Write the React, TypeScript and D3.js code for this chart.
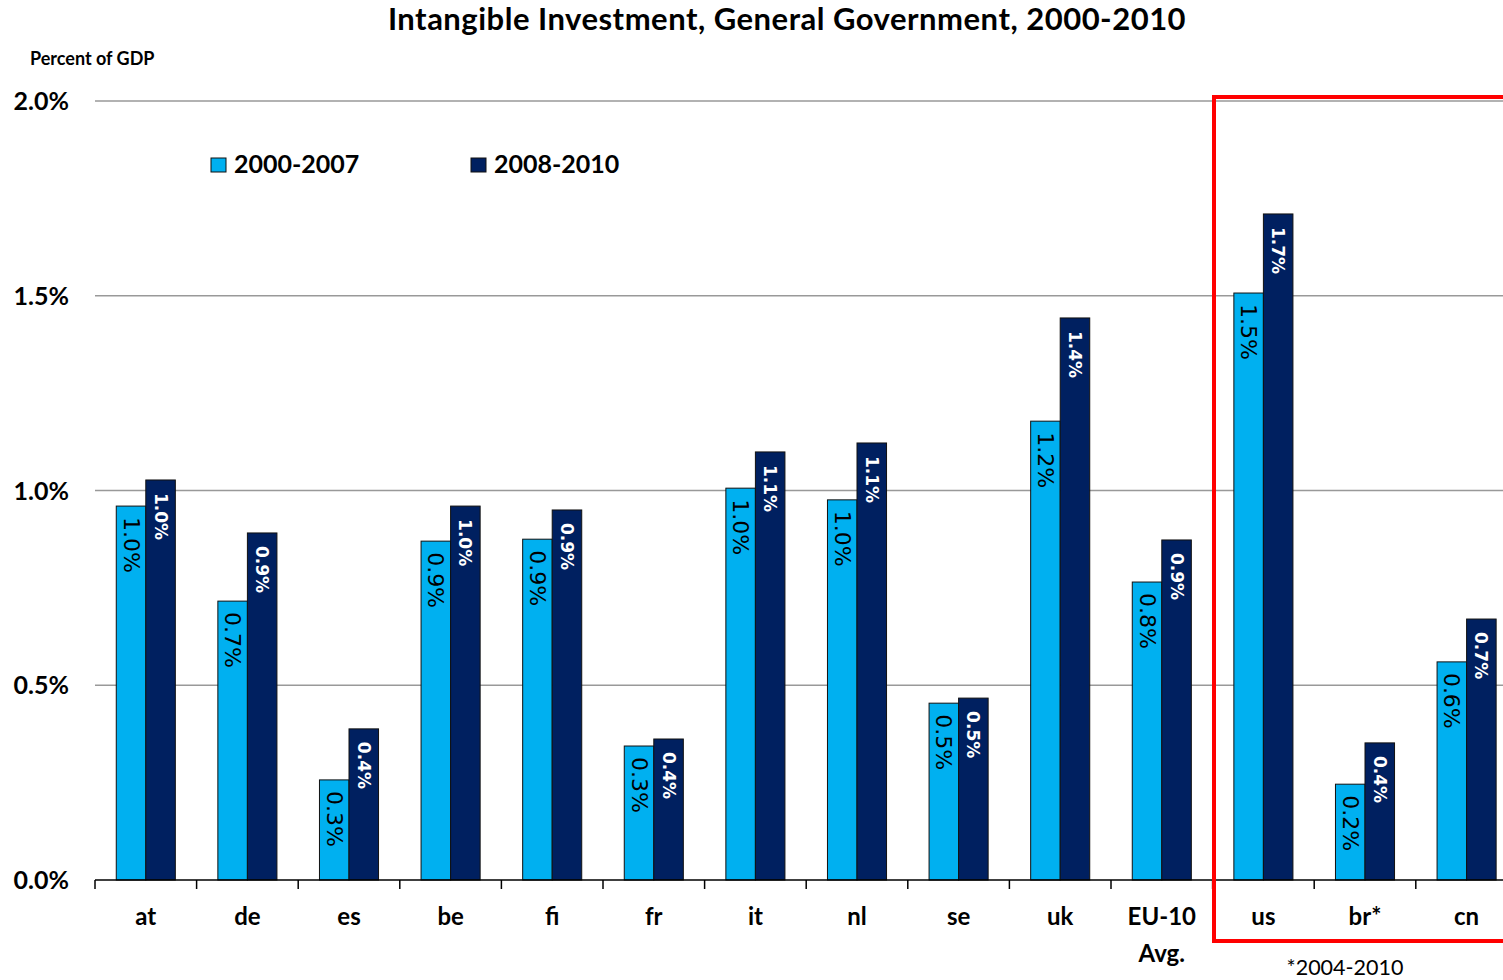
import React, { useEffect } from "react";
import * as d3 from "d3";

const categories = ["at", "de", "es", "be", "fi", "fr", "it", "nl", "se", "uk", "EU-10 Avg.", "us", "br*", "cn"];
const series = ["2000-2007", "2008-2010"];
const values2000_2007 = [0.96, 0.716, 0.257, 0.87, 0.875, 0.344, 1.006, 0.976, 0.454, 1.178, 0.765, 1.507, 0.246, 0.56];
const values2008_2010 = [1.027, 0.891, 0.388, 0.96, 0.95, 0.362, 1.099, 1.122, 0.467, 1.443, 0.873, 1.71, 0.352, 0.67];
const yTicks = [0, 0.5, 1.0, 1.5, 2.0];
const colors = ["#00B0F0", "#002060"];

const W = 1503;
const H = 980;

export default function App() {
  useEffect(() => {
    document.body.style.margin = "0";
  }, []);

  const left = 95;
  const step = 101.6;
  const x = d3.scaleBand<string>().domain(categories).range([left, left + step * categories.length]).padding(0);
  const sub = d3.scaleBand<string>().domain(series).range([0, x.bandwidth()]).paddingInner(0).paddingOuter(0.72);
  const y = d3.scaleLinear().domain([0, 2]).range([880, 101]);
  const data = [values2000_2007, values2008_2010];
  const bold = "Lato, 'Open Sans', sans-serif";

  return (
    <svg width={W} height={H} style={{ display: "block", background: "#fff" }}>
      <text x={787} y={30} textAnchor="middle" fontFamily={bold} fontWeight={700} fontSize={31} letterSpacing={0.5} fill="#000">
        Intangible Investment, General Government, 2000-2010
      </text>
      <text x={30} y={65} fontFamily={bold} fontWeight={700} fontSize={18} fill="#000">
        Percent of GDP
      </text>
      {yTicks.map((t) => (
        <g key={t}>
          {t > 0 && <line x1={left} x2={W} y1={y(t)} y2={y(t)} stroke="#999" strokeWidth={1.5} />}
          <text x={69} y={y(t)} dy="0.36em" textAnchor="end" fontFamily={bold} fontWeight={700} fontSize={25} fill="#000">
            {d3.format(".1%")(t / 100)}
          </text>
        </g>
      ))}
      {categories.map((c, i) => (
        <g key={c}>
          {series.map((s, j) => {
            const v = data[j][i];
            const bx = (x(c) as number) + (sub(s) as number);
            const bw = sub.bandwidth();
            return (
              <g key={s}>
                <rect x={bx} y={y(v)} width={bw} height={y(0) - y(v)} fill={colors[j]} stroke="#111" strokeWidth={1} />
                <text
                  transform={`translate(${bx + bw / 2},${y(v) + (j === 0 ? 11 : 13)}) rotate(90)`}
                  dominantBaseline="central"
                  fontFamily="'DejaVu Sans', sans-serif"
                  fontWeight={j === 0 ? 400 : 700}
                  fontSize={j === 0 ? 22 : 17}
                  fill={j === 0 ? "#000" : "#fff"}
                >
                  {d3.format(".1%")(v / 100)}
                </text>
              </g>
            );
          })}
        </g>
      ))}
      <line x1={left} x2={W} y1={y(0)} y2={y(0)} stroke="#000" strokeWidth={1.5} />
      {categories.map((c) => (
        <line key={c} x1={x(c) as number} x2={x(c) as number} y1={y(0)} y2={y(0) + 9} stroke="#000" strokeWidth={1.5} />
      ))}
      {categories.map((c) => {
        const parts = c.split(" ");
        const cx = (x(c) as number) + x.bandwidth() / 2;
        return (
          <text key={c} x={cx} y={925} textAnchor="middle" fontFamily={bold} fontWeight={700} fontSize={24} fill="#000">
            {parts.map((p, k) => (
              <tspan key={k} x={cx} dy={k === 0 ? 0 : 37}>
                {p}
              </tspan>
            ))}
          </text>
        );
      })}
      <text x={1345} y={975} textAnchor="middle" fontFamily={bold} fontSize={21.5} fill="#000">
        *2004-2010
      </text>
      <rect x={1214} y={97} width={W} height={844} fill="none" stroke="#FF0000" strokeWidth={4} />
      {series.map((s, j) => (
        <g key={s} transform={`translate(${j === 0 ? 211 : 471},158)`}>
          <rect x={0} y={0} width={15} height={14} fill={colors[j]} stroke="#111" strokeWidth={1} />
          <text x={23} y={15} fontFamily={bold} fontWeight={700} fontSize={25} fill="#000">
            {s}
          </text>
        </g>
      ))}
    </svg>
  );
}
